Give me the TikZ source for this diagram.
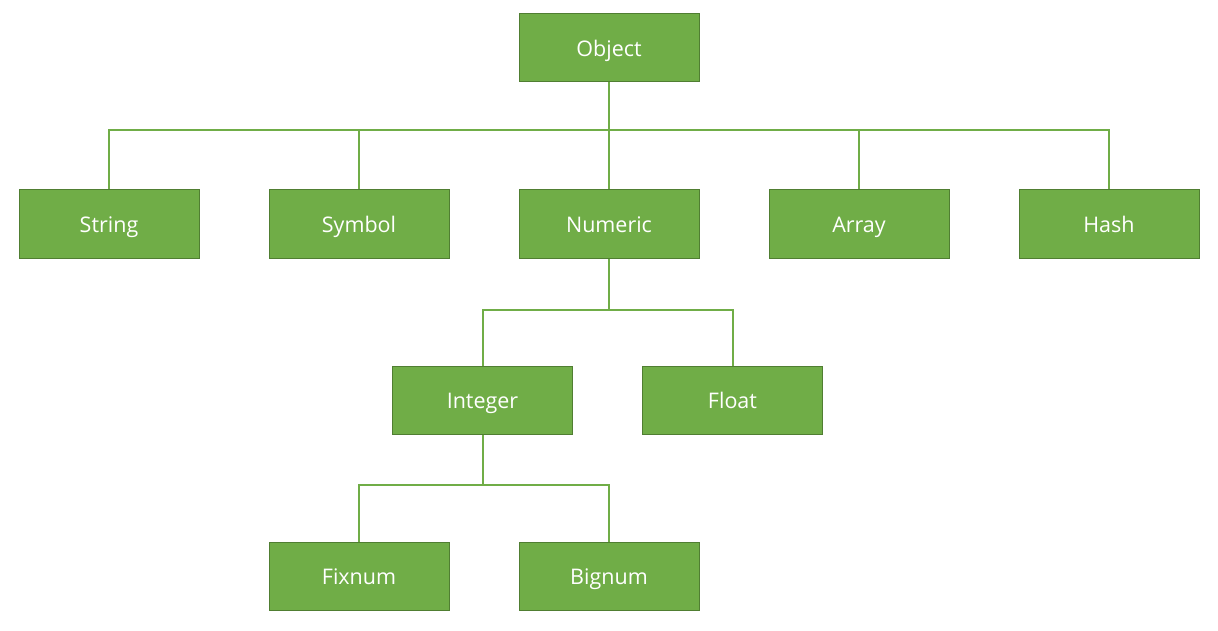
\documentclass[tikz,border=0pt]{standalone}
\usepackage{fontspec}
\setmainfont{Open Sans}
\definecolor{boxfill}{HTML}{70AD47}
\definecolor{boxline}{HTML}{507E32}
\definecolor{conn}{HTML}{70AD47}
\begin{document}
\begin{tikzpicture}[x=1pt,y=-1pt,
  cls/.style={draw=boxline, line width=1pt, fill=boxfill, minimum width=180pt, minimum height=68pt, inner sep=0pt, text height=17pt, text depth=0pt, text=white, font=\fontsize{21.5}{26}\selectfont},
  link/.style={draw=conn, line width=2pt}]
\useasboundingbox (0,0) rectangle (1218,631);
\node[cls] (object) at (609,48) {Object};
\node[cls] (string) at (109,224) {String};
\node[cls] (symbol) at (359,224) {Symbol};
\node[cls] (numeric) at (609,224) {Numeric};
\node[cls] (array) at (859,224) {Array};
\node[cls] (hash) at (1109,224) {Hash};
\node[cls] (integer) at (482.5,400) {Integer};
\node[cls] (float) at (732.5,400) {Float};
\node[cls] (fixnum) at (359,576) {Fixnum};
\node[cls] (bignum) at (609,576) {Bignum};
\coordinate (j1) at (609,130);
\coordinate (j2) at (609,310);
\coordinate (j3) at (482.5,485);
\draw[link] (object.south) -- (j1);
\foreach \n in {string,symbol,numeric,array,hash}
  \draw[link] (j1) -| (\n.north);
\draw[link] (numeric.south) -- (j2);
\foreach \n in {integer,float}
  \draw[link] (j2) -| (\n.north);
\draw[link] (integer.south) -- (j3);
\foreach \n in {fixnum,bignum}
  \draw[link] (j3) -| (\n.north);
\end{tikzpicture}
\end{document}
